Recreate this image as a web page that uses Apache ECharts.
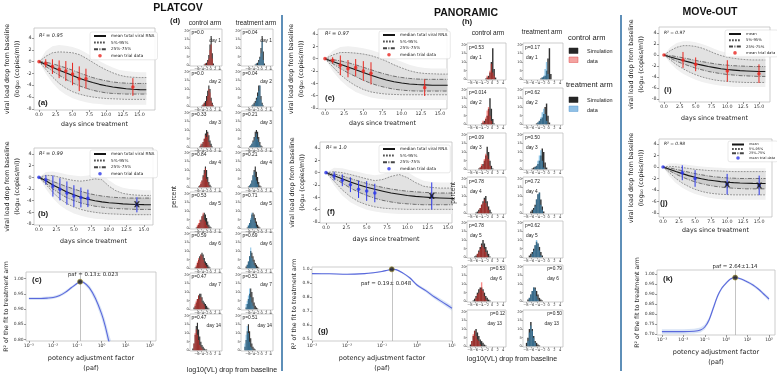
<!DOCTYPE html>
<html><head><meta charset="utf-8">
<script src="https://cdn.jsdelivr.net/npm/echarts@6/dist/echarts.min.js"></script>
<style>html,body{margin:0;padding:0;background:#fff}#c{width:777px;height:374px}</style>
</head><body><div id="c"></div><script>
// ---------------- DATA ----------------
const simDays = [0,1,2,3,4,5,6,7,8,9,10,11,12,13,14,15,16];
// PLATCOV control (a)
const aMean = [0,-0.45,-0.95,-1.45,-1.9,-2.35,-2.8,-3.2,-3.55,-3.85,-4.1,-4.3,-4.45,-4.6,-4.68,-4.74,-4.78];
const aP95  = [0,0.9,1.5,1.65,1.6,1.5,1.2,0.6,-0.1,-0.8,-1.4,-1.9,-2.3,-2.55,-2.65,-2.7,-2.7];
const aP75  = [0,-0.1,-0.35,-0.7,-1.05,-1.45,-1.9,-2.3,-2.7,-3.0,-3.25,-3.45,-3.58,-3.65,-3.7,-3.7,-3.7];
const aP25  = [0,-0.8,-1.6,-2.3,-3.0,-3.6,-4.1,-4.5,-4.85,-5.1,-5.3,-5.4,-5.45,-5.5,-5.5,-5.5,-5.5];
const aP5   = [0,-1.3,-2.6,-3.7,-4.5,-5.1,-5.5,-5.8,-6.0,-6.15,-6.25,-6.3,-6.35,-6.4,-6.4,-6.4,-6.4];
const aMax  = [0,1.8,2.6,2.8,2.7,2.5,2.1,1.5,0.8,0.1,-0.5,-1.0,-1.4,-1.6,-1.7,-1.8,-1.8];
const aMin  = [0,-2.0,-3.6,-4.8,-5.6,-6.2,-6.6,-6.9,-7.1,-7.2,-7.3,-7.3,-7.3,-7.3,-7.3,-7.3,-7.3];
const platDays = [0,1,2,3,4,5,6,7,14];
const aObs = [0,-0.3,-0.85,-1.3,-1.6,-2.1,-2.9,-2.9,-4.3];
const aErr = [0,0.7,1.25,1.5,1.7,1.9,2.1,1.7,1.5];
// PLATCOV treatment (b)
const bMean = [0,-0.6,-1.3,-1.9,-2.5,-3.0,-3.4,-3.75,-4.0,-4.2,-4.35,-4.45,-4.55,-4.6,-4.65,-4.68,-4.7];
const bP95  = [0,0.35,0.3,0.0,-0.3,-0.55,-0.65,-0.5,-0.25,-0.4,-1.5,-2.3,-2.75,-2.95,-3.05,-3.1,-3.1];
const bP75  = [0,-0.25,-0.7,-1.15,-1.6,-2.0,-2.4,-2.75,-3.0,-3.2,-3.35,-3.45,-3.5,-3.55,-3.55,-3.55,-3.55];
const bP25  = [0,-1.0,-2.0,-2.8,-3.5,-4.0,-4.4,-4.7,-4.95,-5.1,-5.25,-5.35,-5.4,-5.45,-5.5,-5.5,-5.5];
const bP5   = [0,-1.2,-2.6,-3.7,-4.5,-5.1,-5.5,-5.8,-6.0,-6.15,-6.25,-6.3,-6.35,-6.4,-6.4,-6.4,-6.4];
const bMax  = [0,0.9,1.0,0.8,0.5,0.3,0.2,0.3,0.6,0.5,-0.5,-1.3,-1.8,-2.0,-2.1,-2.2,-2.2];
const bMin  = [0,-2.0,-3.6,-4.8,-5.6,-6.2,-6.6,-6.9,-7.1,-7.2,-7.3,-7.3,-7.3,-7.3,-7.3,-7.3,-7.3];
const bObs = [0,-0.45,-1.5,-2.05,-2.7,-3.2,-3.45,-3.6,-4.7];
const bErr = [0,0.8,1.8,1.9,2.0,1.85,1.7,1.5,1.3];
const bSimDays = [14];
const bSim = [-4.6];
// PANORAMIC control (e)
const eMean = [0,-0.45,-0.9,-1.35,-1.8,-2.25,-2.7,-3.1,-3.45,-3.75,-3.95,-4.1,-4.2,-4.25,-4.3,-4.3,-4.3];
const eP95  = [0,0.6,1.0,1.0,0.9,0.75,0.5,0.1,-0.4,-1.0,-1.5,-1.95,-2.25,-2.4,-2.45,-2.5,-2.5];
const eP75  = [0,-0.15,-0.35,-0.65,-1.0,-1.4,-1.8,-2.2,-2.55,-2.85,-3.05,-3.2,-3.3,-3.35,-3.35,-3.35,-3.35];
const eP25  = [0,-0.8,-1.6,-2.3,-2.9,-3.5,-4.0,-4.4,-4.7,-4.95,-5.1,-5.2,-5.25,-5.25,-5.25,-5.25,-5.25];
const eP5   = [0,-1.3,-2.6,-3.6,-4.4,-5.0,-5.4,-5.6,-5.75,-5.8,-5.85,-5.85,-5.85,-5.85,-5.85,-5.85,-5.85];
const eMax  = [0,1.3,1.9,2.0,1.9,1.7,1.4,1.0,0.5,0.0,-0.5,-1.0,-1.3,-1.5,-1.6,-1.6,-1.6];
const eMin  = [0,-2.0,-3.5,-4.6,-5.4,-5.9,-6.3,-6.5,-6.6,-6.7,-6.7,-6.7,-6.7,-6.7,-6.7,-6.7,-6.7];
const panoDays = [0,1,2,3,4,5,6,13];
const eObs = [0,-0.27,-1.08,-1.62,-1.46,-2.0,-2.38,-4.7];
const eErr = [0,0.5,1.6,1.4,1.4,1.6,1.8,1.35];
// PANORAMIC treatment (f)
const fMean = [0,-0.5,-1.0,-1.5,-1.95,-2.35,-2.7,-3.0,-3.3,-3.5,-3.7,-3.85,-3.95,-4.05,-4.1,-4.15,-4.2];
const fP95  = [0,0.15,0.0,-0.3,-0.65,-1.0,-1.3,-1.1,-0.6,-0.3,-0.8,-1.6,-2.2,-2.4,-2.5,-2.5,-2.5];
const fP75  = [0,-0.2,-0.55,-0.95,-1.35,-1.75,-2.1,-2.4,-2.65,-2.85,-3.0,-3.1,-3.2,-3.25,-3.3,-3.3,-3.3];
const fP25  = [0,-0.9,-1.7,-2.5,-3.15,-3.7,-4.15,-4.5,-4.75,-4.95,-5.05,-5.15,-5.2,-5.2,-5.2,-5.2,-5.2];
const fP5   = [0,-1.4,-2.8,-3.9,-4.7,-5.2,-5.55,-5.75,-5.85,-5.9,-5.95,-5.95,-5.95,-5.95,-5.95,-5.95,-5.95];
const fMax  = [0,0.8,0.7,0.4,0.1,-0.2,-0.4,-0.2,0.3,0.6,0.1,-0.7,-1.3,-1.5,-1.6,-1.6,-1.6];
const fMin  = [0,-2.1,-3.7,-4.8,-5.5,-6.0,-6.3,-6.5,-6.6,-6.7,-6.7,-6.7,-6.7,-6.7,-6.7,-6.7,-6.7];
const fObs = [0,-0.54,-1.24,-1.95,-2.7,-2.97,-3.3,-3.78];
const fErr = [0,0.7,0.95,1.2,1.4,1.6,1.5,2.2];
const fSimDays = [13];
const fSim = [-3.78];
// MOVe-OUT control (i)
const iMean = [0,-0.35,-0.7,-1.0,-1.3,-1.6,-1.85,-2.1,-2.3,-2.5,-2.65,-2.75,-2.85,-2.9,-2.95,-3.0,-3.0];
const iP95  = [0,0.8,1.4,1.7,1.7,1.55,1.25,0.8,0.3,-0.1,-0.4,-0.6,-0.75,-0.85,-0.9,-0.9,-0.9];
const iP75  = [0,-0.1,-0.3,-0.5,-0.75,-1.0,-1.2,-1.4,-1.6,-1.75,-1.85,-1.95,-2.0,-2.05,-2.1,-2.1,-2.1];
const iP25  = [0,-0.6,-1.15,-1.6,-2.0,-2.4,-2.7,-3.0,-3.2,-3.4,-3.55,-3.65,-3.75,-3.8,-3.85,-3.9,-3.9];
const iP5   = [0,-0.9,-1.8,-2.5,-3.1,-3.6,-4.0,-4.3,-4.55,-4.7,-4.8,-4.9,-4.95,-5.0,-5.0,-5.0,-5.0];
const iMax  = [0,1.4,2.2,2.5,2.5,2.3,2.0,1.6,1.1,0.7,0.4,0.2,0.1,0.0,0.0,0.0,0.0];
const iMin  = [0,-1.5,-2.6,-3.4,-4.0,-4.5,-4.9,-5.2,-5.4,-5.6,-5.7,-5.8,-5.8,-5.8,-5.8,-5.8,-5.8];
const moveDays = [0,3,5,10,15];
const iObs = [0,-0.9,-1.7,-2.9,-3.4];
const iErr = [0,1.45,1.25,1.95,1.7];
// MOVe-OUT treatment (j)
const jMean = [0,-0.4,-0.8,-1.15,-1.5,-1.8,-2.05,-2.25,-2.4,-2.55,-2.65,-2.72,-2.78,-2.82,-2.85,-2.87,-2.88];
const jP95  = [0,0.1,0.05,-0.1,-0.25,-0.4,-0.5,-0.6,-0.65,-0.7,-0.75,-0.8,-0.8,-0.8,-0.8,-0.8,-0.8];
const jP75  = [0,-0.15,-0.4,-0.65,-0.9,-1.15,-1.35,-1.55,-1.7,-1.8,-1.9,-1.95,-2.0,-2.0,-2.0,-2.0,-2.0];
const jP25  = [0,-0.65,-1.25,-1.75,-2.2,-2.6,-2.9,-3.15,-3.35,-3.5,-3.6,-3.7,-3.75,-3.8,-3.8,-3.8,-3.8];
const jP5   = [0,-1.0,-2.0,-2.8,-3.4,-3.9,-4.25,-4.5,-4.65,-4.75,-4.8,-4.85,-4.85,-4.85,-4.85,-4.85,-4.85];
const jMax  = [0,0.6,0.6,0.5,0.35,0.2,0.1,0.0,-0.1,-0.15,-0.2,-0.2,-0.2,-0.2,-0.2,-0.2,-0.2];
const jMin  = [0,-1.6,-2.8,-3.6,-4.2,-4.7,-5.0,-5.3,-5.5,-5.6,-5.7,-5.7,-5.7,-5.7,-5.7,-5.7,-5.7];
const jObs = [0,-1.0,-2.0,-3.0,-3.2];
const jErr = [0,1.3,1.45,1.8,1.7];
const jSimDays = [10,15];
const jSim = [-3.0,-3.2];
// potency adjustment factor fits (x = log10 paf)
const cLogPaf = [-3,-2.5,-2.25,-2,-1.75,-1.5,-1.25,-1,-0.886,-0.75,-0.5,-0.25,0,0.15,0.3,0.5];
const cR2     = [0.935,0.935,0.936,0.938,0.944,0.955,0.97,0.985,0.99,0.988,0.97,0.935,0.885,0.845,0.795,0.74];
const cPaf = 0.13, cPafR2 = 0.99;
const gLogPaf = [-3,-2.5,-2,-1.5,-1.25,-1,-0.85,-0.72,-0.6,-0.4,-0.2,0,0.25,0.5,0.75,1];
const gR2     = [0.966,0.965,0.962,0.966,0.972,0.982,0.99,0.997,0.995,0.97,0.935,0.885,0.845,0.8,0.76,0.72];
const gPaf = 0.19, gPafR2 = 0.997;
const kLogPaf = [-3,-2,-1.5,-1.2,-1,-0.8,-0.6,-0.4,-0.2,0,0.2,0.42,0.7,1,1.25,1.5,1.75,2];
const kR2     = [0.712,0.712,0.714,0.72,0.735,0.77,0.83,0.89,0.93,0.955,0.975,0.982,0.975,0.96,0.945,0.925,0.9,0.875];
const kPaf = 2.64, kPafR2 = 0.982;
// histograms: [first bin start, percent per 0.5-wide bin ...]
const platHistDays = [1,2,3,4,5,6,7,14];
const platCtrlP = ['0.0','0.0','0.33','0.84','0.53','0.59','0.47','0.47'];
const platTrtP  = ['0.04','0.04','0.21','0.21','0.71','0.69','0.51','0.51'];
const ptCS = [
 [-3,0.5,1,1.5,3,6,12,17,7,1],
 [-4,0.5,1,2,3,6,9,12,10,5,2,0.5],
 [-5,0.5,1,2,3,5,8,10,9,7,4,2,0.5],
 [-5.5,0.5,1,2,4,7,10,12,10,6,3,1.5,0.5],
 [-6.5,0.5,1,2,3,5,7,8,9,8,6,4,2,1,0.5],
 [-7,0.5,1,3,5,7,8,9,8,6,4,3,2,1,0.5],
 [-7.5,1,2,4,6,8,9,9,7,5,4,3,2,1,0.5],
 [-8,1,4,9,14,16,12,8,5,3,2,1,0.5,0.5]];
const ptCD = [
 [-2.5,1,0,2,4,9,12,4],
 [-3.5,1,2,0,3,6,10,8,3,1],
 [-4.5,2,0,3,5,7,6,8,3,1],
 [-5,1,3,4,6,8,11,5,3,1],
 [-6,2,3,5,4,7,9,5,4,2,1],
 [-6.5,2,4,6,5,8,7,5,3,2,1],
 [-7,3,5,6,8,6,7,4,3,2],
 [-7.5,4,10,12,9,6,3,2,1]];
const ptTS = [
 [-3,0.5,1,1.5,3,5,10,17,8,1],
 [-4.5,0.5,1,2,3,5,8,12,12,6,2,0.5],
 [-5.5,0.5,1,2,4,6,9,10,9,6,3,1,0.5],
 [-6,0.5,1,2,4,7,10,12,9,6,3,1,0.5],
 [-6.5,0.5,1.5,3,5,8,9,8,6,4,2,1,0.5],
 [-7,1,2,4,7,10,9,7,5,3,2,1,0.5],
 [-7,1,3,6,9,12,10,7,4,2,1,0.5],
 [-7.5,2,6,11,15,11,7,4,2,1,0.5]];
const ptTD = [
 [-2.5,1,0,2,4,7,14,3],
 [-4,1,0,2,4,6,9,12,4,1],
 [-5,1,2,3,4,6,8,5,3,1],
 [-5.5,1,2,4,7,9,6,4,2],
 [-6,2,3,6,9,7,5,3,1],
 [-6.5,2,4,7,12,6,4,2,1],
 [-7,3,5,8,12,7,4,2],
 [-7.5,4,9,14,10,5,2,1]];
const panoHistDays = [1,2,3,4,5,6,13];
const panoCtrlP = ['0.53','0.014','0.09','0.78','0.78','0.53','0.12'];
const panoTrtP  = ['0.17','0.62','0.50','0.72','0.62','0.79','0.50'];
const pnCS = [
 [-2.5,0.5,1,2,4,10,18,6,1],
 [-4,0.5,1,2,3,5,9,15,9,3,0.5],
 [-5,0.5,1,2,3,5,8,13,10,5,2,0.5],
 [-6,0.5,1,2,3,5,7,9,10,7,4,2,0.5],
 [-6.5,0.5,1,2,4,6,8,10,8,6,4,2,0.5],
 [-7,0.5,1.5,3,5,7,8,8,7,5,3,2,1,0.5],
 [-8,1,3,6,9,10,8,6,4,3,2,1,0.5]];
const pnCD = [
 [-2,2,1,5,9,4,2],
 [-3.5,2,1,4,8,10,5,2],
 [-4.5,1,3,2,6,9,8,6,2],
 [-5,1,3,5,6,8,6,4,2],
 [-5.5,2,3,5,7,6,5,3,1],
 [-6,2,4,5,7,11,6,3,1],
 [-7.5,3,7,9,6,4,3,1]];
const pnTS = [
 [-3,0.5,1,1.5,2,5,12,18,3],
 [-4.5,0.5,1,2,3,4,6,10,12,5,1],
 [-6,0.5,1,1.5,2,3,5,8,12,10,4,1],
 [-6.5,1,2,3,5,8,11,12,8,4,1],
 [-7,1,2,3,5,7,9,8,6,3,1],
 [-7.5,1,2,4,6,8,8,6,4,2,1,0.5],
 [-8,2,5,10,14,10,6,3,2,1,0.5]];
const pnTD = [
 [-2.5,1,2,6,10,3],
 [-4,1,2,4,7,9,6,2],
 [-5,1,2,5,8,11,5,1],
 [-5.5,2,4,8,11,12,5,2],
 [-6,2,4,7,10,8,4,1],
 [-7,2,4,6,8,7,3,1],
 [-7.5,3,8,12,9,5,2]];
const fanXTicks = [0,2.5,5,7.5,10,12.5,15];
const fanYTicks = [-8,-6,-4,-2,0,2,4];
const histXTicks = [-8,-6,-4,-2,0,2,4];
const histYTicks = [0,5,10,15,20];

// ---------------- BUILD ----------------
const F = 'DejaVu Sans', A = 'Liberation Sans';
const RED = '#e8261f', BLUE = '#2a36e8', CURVE = '#5a68dc';
const grids = [], xAxes = [], yAxes = [], series = [], legends = [], graphics = [];
const minus = v => (v < 0 ? '\u2212' + (-v) : '' + v);
const noLine = {show: false, onZero: false};

function addGrid(r, xa, ya) {
  const i = grids.length;
  grids.push({left: r[0], top: r[1], width: r[2], height: r[3], show: true,
    borderColor: '#b8b8b8', borderWidth: 0.7, backgroundColor: '#fff', containLabel: false});
  xa.gridIndex = i; ya.gridIndex = i; xa.position = 'bottom'; ya.position = 'left';
  xAxes.push(xa); yAxes.push(ya);
  return i;
}
function txt(x, y, t, o) {
  o = o || {};
  graphics.push({type: 'text', x, y, rotation: o.rot || 0, z: 50, silent: true,
    style: {text: t, fontSize: o.fs || 6, fontFamily: o.ff || F, fontWeight: o.fw || 'normal',
      fontStyle: o.fst || 'normal', fill: o.c || '#222', align: o.al || 'left', verticalAlign: 'middle'}});
}
function band(g, xs, lo, hi, color) {
  return {type: 'custom', xAxisIndex: g, yAxisIndex: g, silent: true, z: 1, clip: true,
    data: [[xs[0], lo[0]]],
    renderItem: (params, api) => {
      const pts = [];
      for (let i = 0; i < xs.length; i++) pts.push(api.coord([xs[i], hi[i]]));
      for (let i = xs.length - 1; i >= 0; i--) pts.push(api.coord([xs[i], lo[i]]));
      return {type: 'polygon', shape: {points: pts}, style: {fill: color}};
    }};
}
const XSYM = 'path://M0,0L3,0L5,3.2L7,0L10,0L6.6,5L10,10L7,10L5,6.8L3,10L0,10L3.4,5Z';
function P2(xs, ys) { return xs.map((x, i) => [x, ys[i]]); }

function fanPanel(p, d) {
  const axName = {fontSize: 6.3, color: '#222', fontFamily: F, lineHeight: 10};
  const g = addGrid(p.rect, {
    type: 'value', min: p.xr[0], max: p.xr[1], axisLine: noLine, splitLine: {show: false},
    axisTick: {show: true, length: 2, lineStyle: {color: '#555', width: 0.6}, customValues: fanXTicks},
    axisLabel: {customValues: fanXTicks, formatter: v => v.toFixed(1), fontSize: 4.8, color: '#333', margin: 2.5, fontFamily: F},
    name: 'days since treatment', nameLocation: 'middle', nameGap: p.xGap, nameTextStyle: axName
  }, {
    type: 'value', min: p.yr[0], max: p.yr[1], axisLine: noLine, splitLine: {show: false},
    axisTick: {show: true, length: 2, lineStyle: {color: '#555', width: 0.6}, customValues: fanYTicks},
    axisLabel: {customValues: fanYTicks, fontSize: 4.8, color: '#333', margin: 2.5, fontFamily: F},
    name: 'viral load drop from baseline\n(log\u2081\u2080 (copies/ml))', nameLocation: 'middle', nameGap: p.yGap,
    nameTextStyle: axName
  });
  const pre = p.id + ':';
  const P = ys => P2(d.t, ys);
  series.push(band(g, d.t, d.lo, d.hi, '#f0f0f0'));
  series.push(band(g, d.t, d.p5, d.p95, '#e2e2e2'));
  series.push(band(g, d.t, d.p25, d.p75, '#cdcdcd'));
  const dash = {color: '#555', width: 0.6, type: [1.8, 1.2]};
  const dd = {color: '#444', width: 0.7, type: [4, 1.4, 1, 1.4]};
  const L = (name, ys, ls) => ({type: 'line', name, xAxisIndex: g, yAxisIndex: g, data: P(ys),
    symbol: 'none', lineStyle: ls, z: 3, silent: true});
  series.push(L(pre + p.meanLabel, d.mean, {color: '#151515', width: 1.1}));
  series.push(L(pre + '5%-95%', d.p5, dash), L(pre + '5%-95%', d.p95, dash));
  series.push(L(pre + '25%-75%', d.p25, dd), L(pre + '25%-75%', d.p75, dd));
  series.push({type: 'custom', xAxisIndex: g, yAxisIndex: g, silent: true, z: 4,
    data: d.od.map((x, i) => [x, d.obs[i], d.err[i]]),
    renderItem: (params, api) => {
      const x = api.value(0), y = api.value(1), e = api.value(2);
      const a = api.coord([x, y - e]), b = api.coord([x, y + e]);
      return {type: 'line', shape: {x1: a[0], y1: a[1], x2: b[0], y2: b[1]}, style: {stroke: p.col, lineWidth: 1}};
    }});
  series.push({type: 'scatter', name: pre + p.obsLabel, xAxisIndex: g, yAxisIndex: g, silent: true, z: 5,
    data: P2(d.od, d.obs), symbolSize: 3.6, itemStyle: {color: p.col}});
  if (d.sd) series.push({type: 'scatter', xAxisIndex: g, yAxisIndex: g, silent: true, z: 6,
    data: P2(d.sd, d.sv), symbol: XSYM, symbolSize: 6, itemStyle: {color: '#151515'}});
  const hideSym = {opacity: 0};
  legends.push({left: p.lg[0], top: p.lg[1], orient: 'vertical', itemWidth: 12, itemHeight: 3.6,
    itemGap: p.lgGap, padding: [2, 3, 2, 3], borderColor: '#d0d0d0', borderWidth: 0.5, borderRadius: 2,
    backgroundColor: 'rgba(255,255,255,0.85)', selectedMode: false,
    textStyle: {fontSize: p.lgFs, color: '#222', fontFamily: F},
    formatter: n => n.slice(2),
    data: [{name: pre + p.meanLabel, itemStyle: hideSym}, {name: pre + '5%-95%', itemStyle: hideSym},
      {name: pre + '25%-75%', itemStyle: hideSym}, {name: pre + p.obsLabel}]});
  txt(p.r2Pos[0], p.r2Pos[1], 'R\u00b2 = ' + p.r2, {fs: p.r2Fs || 5, fst: 'italic'});
  txt(p.tagPos[0], p.tagPos[1], p.tag, {fs: 8, fw: 'bold', ff: A});
}

const SUP = {'-3': '10\u207b\u00b3', '-2': '10\u207b\u00b2', '-1': '10\u207b\u00b9', '0': '10\u2070', '1': '10\u00b9', '2': '10\u00b2'};
function pafPanel(p) {
  const g = addGrid(p.rect, {
    type: 'value', min: p.xr[0], max: p.xr[1], axisLine: noLine, splitLine: {show: false},
    axisTick: {show: true, length: 2, lineStyle: {color: '#555', width: 0.6}, customValues: p.xt},
    axisLabel: {customValues: p.xt, formatter: v => SUP[String(Math.round(v))], fontSize: 4.6, color: '#333', margin: 2.5, fontFamily: F},
    name: 'potency adjustment factor\n(paf)', nameLocation: 'middle', nameGap: p.xGap,
    nameTextStyle: {fontSize: 6.5, color: '#222', fontFamily: F, lineHeight: 10}
  }, {
    type: 'value', min: p.yr[0], max: p.yr[1], axisLine: noLine, splitLine: {show: false},
    axisTick: {show: true, length: 2, lineStyle: {color: '#555', width: 0.6}, customValues: p.yt},
    axisLabel: {customValues: p.yt, formatter: v => v.toFixed(p.dec), fontSize: 4.4, color: '#333', margin: 2.5, fontFamily: F},
    name: 'R\u00b2 of the fit to treatment arm', nameLocation: 'middle', nameGap: p.yGap,
    nameTextStyle: {fontSize: 6.2, color: '#222', fontFamily: F}
  });
  const lo = p.r2.map((v, i) => v - p.bw[i]), hi = p.r2.map((v, i) => v + p.bw[i]);
  series.push(band(g, p.lx, lo, hi, 'rgba(170,195,235,0.45)'));
  const px = Math.log10(p.paf);
  series.push({type: 'line', xAxisIndex: g, yAxisIndex: g, data: P2(p.lx, p.r2), symbol: 'none', smooth: 0.3,
    lineStyle: {color: CURVE, width: 1.1}, z: 3, silent: true,
    markLine: {silent: true, symbol: 'none', label: {show: false}, animation: false,
      lineStyle: {color: '#aaa', width: 0.7, type: 'solid'}, data: [{xAxis: px}]}});
  series.push({type: 'scatter', xAxisIndex: g, yAxisIndex: g, data: [[px, p.peak]], symbolSize: 5, z: 5, silent: true,
    itemStyle: {color: '#1a1a1a', borderColor: '#9c8a2c', borderWidth: 0.8}});
  txt(p.tPos[0], p.tPos[1], p.label, {fs: 5.4, al: 'center'});
  txt(p.tagPos[0], p.tagPos[1], p.tag, {fs: 8, fw: 'bold', ff: A});
}

function histPanel(r, sim, dat, dcol, pTxt, dTxt, mode) {
  const g = addGrid(r, {
    type: 'value', min: -9, max: 5, axisLine: noLine, splitLine: {show: false},
    axisTick: {show: true, length: 1.4, lineStyle: {color: '#666', width: 0.5}, customValues: histXTicks},
    axisLabel: {customValues: histXTicks, formatter: minus, fontSize: 3.6, color: '#333', margin: 1.2, fontFamily: F}
  }, {
    type: 'value', min: -0.4, max: 21, axisLine: noLine, splitLine: {show: false},
    axisTick: {show: true, length: 1.4, lineStyle: {color: '#666', width: 0.5}, customValues: histYTicks},
    axisLabel: {customValues: histYTicks, fontSize: 3.6, color: '#333', margin: 1.2, fontFamily: F}
  });
  const hs = (arr, col, op, z) => ({type: 'custom', xAxisIndex: g, yAxisIndex: g, silent: true, z,
    data: arr.slice(1).map((v, i) => [arr[0] + i * 0.5, v]),
    renderItem: (params, api) => {
      const x = api.value(0), h = api.value(1);
      const a = api.coord([x, 0]), b = api.coord([x + 0.5, h]);
      return {type: 'rect', shape: {x: a[0], y: b[1], width: b[0] - a[0], height: a[1] - b[1]},
        style: {fill: col, opacity: op}};
    }});
  series.push(hs(sim, '#161616', 0.88, 2));
  series.push(hs(dat, dcol, 0.55, 3));
  const x0 = r[0], y0 = r[1], w = r[2];
  if (mode === 'd') {
    txt(x0 + 1.5, y0 + 4, 'p=' + pTxt, {fs: 4.8, ff: A});
    txt(x0 + w - 1, y0 + 11.5, 'day ' + dTxt, {fs: 4.8, ff: A, al: 'right'});
  } else if (mode === 'hl') {
    txt(x0 + 2, y0 + 5, 'p=' + pTxt, {fs: 4.8, ff: A});
    txt(x0 + 3, y0 + 15, 'day ' + dTxt, {fs: 4.8, ff: A});
  } else {
    txt(x0 + w - 1, y0 + 4, 'p=' + pTxt, {fs: 4.8, ff: A, al: 'right'});
    txt(x0 + w - 4, y0 + 14, 'day ' + dTxt, {fs: 4.8, ff: A, al: 'right'});
  }
}

// ---- fan panels ----
const mk = (mean, p5, p25, p75, p95, lo, hi, od, obs, err, sd, sv) => ({t: simDays, mean, p5, p25, p75, p95, lo, hi, od, obs, err, sd, sv});
fanPanel({id: 'a', rect: [34, 28, 121, 82], xr: [-0.75, 17.3], yr: [-8.2, 5.7], col: RED, xGap: 9, yGap: 9,
  meanLabel: 'mean total viral RNA', obsLabel: 'mean trial data', lg: [90, 32], lgGap: 2.6, lgFs: 4.2,
  r2: '0.95', r2Pos: [39, 36], tag: '(a)', tagPos: [38, 103]},
  mk(aMean, aP5, aP25, aP75, aP95, aMin, aMax, platDays, aObs, aErr));
fanPanel({id: 'b', rect: [34, 148, 119, 77], xr: [-0.7, 16.3], yr: [-8.17, 5.03], col: BLUE, xGap: 11, yGap: 9,
  meanLabel: 'mean total viral RNA', obsLabel: 'mean trial data', lg: [90, 150], lgGap: 2.6, lgFs: 4.2,
  r2: '0.99', r2Pos: [39, 154], tag: '(b)', tagPos: [38, 214]},
  mk(bMean, bP5, bP25, bP75, bP95, bMin, bMax, platDays, bObs, bErr, bSimDays, bSim));
fanPanel({id: 'e', rect: [318, 29, 129, 80], xr: [-0.91, 15.91], yr: [-8.16, 4.81], col: RED, xGap: 9, yGap: 12,
  meanLabel: 'median total viral RNA', obsLabel: 'median trial data', lg: [379, 31], lgGap: 2.6, lgFs: 4.2,
  r2: '0.97', r2Pos: [325, 34], tag: '(e)', tagPos: [325, 98]},
  mk(eMean, eP5, eP25, eP75, eP95, eMin, eMax, panoDays, eObs, eErr));
fanPanel({id: 'f', rect: [320, 142, 132, 81], xr: [-0.74, 15.49], yr: [-8.16, 4.97], col: BLUE, xGap: 11, yGap: 13,
  meanLabel: 'median total viral RNA', obsLabel: 'median trial data', lg: [379, 145], lgGap: 2.6, lgFs: 4.2,
  r2: '1.0', r2Pos: [326, 148], tag: '(f)', tagPos: [327, 212]},
  mk(fMean, fP5, fP25, fP75, fP95, fMin, fMax, panoDays, fObs, fErr, fSimDays, fSim));
fanPanel({id: 'i', rect: [659, 27, 111, 75], xr: [-0.79, 16.74], yr: [-8.55, 5.09], col: RED, xGap: 11, yGap: 13,
  meanLabel: 'mean', obsLabel: 'mean trial data', lg: [725, 30], lgGap: 2.3, lgFs: 3.8,
  r2: '0.97', r2Pos: [664, 33], r2Fs: 4.4, tag: '(i)', tagPos: [664, 90]},
  mk(iMean, iP5, iP25, iP75, iP95, iMin, iMax, moveDays, iObs, iErr));
fanPanel({id: 'j', rect: [659, 139, 113, 78], xr: [-0.63, 17.0], yr: [-8.7, 4.87], col: BLUE, xGap: 8, yGap: 13,
  meanLabel: 'mean', obsLabel: 'mean trial data', lg: [728, 141], lgGap: 1.4, lgFs: 3.4,
  r2: '0.98', r2Pos: [664, 144], r2Fs: 4.4, tag: '(j)', tagPos: [660, 203]},
  mk(jMean, jP5, jP25, jP75, jP95, jMin, jMax, moveDays, jObs, jErr, jSimDays, jSim));

// ---- paf panels ----
pafPanel({rect: [26, 272, 130, 73], xr: [-3.12, 2.25], yr: [0.795, 1.022], xt: [-3, -2, -1, 0, 1, 2],
  yt: [0.80, 0.85, 0.90, 0.95, 1.00], dec: 2, xGap: 12, yGap: 15, lx: cLogPaf, r2: cR2,
  bw: [0.005,0.005,0.005,0.005,0.005,0.005,0.005,0.004,0.004,0.005,0.008,0.012,0.016,0.02,0.024,0.03],
  paf: cPaf, peak: cPafR2, label: 'paf = 0.13\u00b1 0.023', tPos: [93, 275], tag: '(c)', tagPos: [32, 280]});
pafPanel({rect: [312, 267, 140, 78], xr: [-3, 1], yr: [0.4865, 1.0135], xt: [-3, -2, -1, 0, 1],
  yt: [0.5, 0.6, 0.7, 0.8, 0.9, 1.0], dec: 1, xGap: 12, yGap: 15, lx: gLogPaf, r2: gR2,
  bw: [0.004,0.004,0.004,0.004,0.004,0.004,0.004,0.003,0.004,0.006,0.008,0.01,0.012,0.014,0.016,0.018],
  paf: gPaf, peak: gPafR2, label: 'paf = 0.19\u00b1 0.048', tPos: [386, 284], tag: '(g)', tagPos: [318, 331]});
pafPanel({rect: [657, 270, 118, 65], xr: [-3.23, 2.28], yr: [0.695, 1.02], xt: [-3, -2, -1, 0, 1, 2],
  yt: [0.70, 0.75, 0.80, 0.85, 0.90, 0.95, 1.00], dec: 2, xGap: 12, yGap: 14, lx: kLogPaf, r2: kR2,
  bw: [0.012,0.012,0.012,0.012,0.012,0.012,0.012,0.01,0.008,0.006,0.005,0.004,0.005,0.006,0.007,0.008,0.009,0.01],
  paf: kPaf, peak: kPafR2, label: 'paf = 2.64\u00b11.14', tPos: [735, 267], tag: '(k)', tagPos: [663, 279]});

// ---- histograms ----
const dTops = [29, 70, 111, 151, 192, 232, 273, 314];
for (let i = 0; i < platHistDays.length; i++) {
  histPanel([190, dTops[i], 32, 37], ptCS[i], ptCD[i], '#f0302a', platCtrlP[i], platHistDays[i], 'd');
  histPanel([241, dTops[i], 32, 37], ptTS[i], ptTD[i], '#3d9ad6', platTrtP[i], platHistDays[i], 'd');
}
const hTops = [43, 88, 133, 177, 221, 265, 310];
for (let i = 0; i < panoHistDays.length; i++) {
  const m = i < 5 ? 'hl' : 'hr';
  histPanel([467, hTops[i], 39, 37], pnCS[i], pnCD[i], '#f0302a', panoCtrlP[i], panoHistDays[i], m);
  histPanel([523, hTops[i], 40, 37], pnTS[i], pnTD[i], '#3d9ad6', panoTrtP[i], panoHistDays[i], m);
}

// ---- texts & decorations ----
txt(178, 8, 'PLATCOV', {fs: 10.5, fw: 'bold', ff: A, al: 'center', c: '#111'});
txt(466, 13, 'PANORAMIC', {fs: 10.5, fw: 'bold', ff: A, al: 'center', c: '#111'});
txt(710, 12, 'MOVe-OUT', {fs: 10.5, fw: 'bold', ff: A, al: 'center', c: '#111'});
txt(170, 21, '(d)', {fs: 8, fw: 'bold', ff: A});
txt(205, 23, 'control arm', {fs: 6.5, ff: A, al: 'center'});
txt(256, 23, 'treatment arm', {fs: 6.5, ff: A, al: 'center'});
txt(462, 22, '(h)', {fs: 8, fw: 'bold', ff: A});
txt(488, 33, 'control arm', {fs: 6.5, ff: A, al: 'center'});
txt(542, 32, 'treatment arm', {fs: 6.5, ff: A, al: 'center'});
txt(174, 197, 'percent', {fs: 6.5, ff: A, al: 'center', rot: Math.PI / 2});
txt(453, 193, 'percent', {fs: 6.5, ff: A, al: 'center', rot: Math.PI / 2});
txt(232, 370, 'log10(VL) drop from baseline', {fs: 7, ff: A, al: 'center'});
txt(512, 359, 'log10(VL) drop from baseline', {fs: 7, ff: A, al: 'center'});
// histogram legend
txt(568, 38, 'control arm', {fs: 7.5, ff: A});
txt(566, 85, 'treatment arm', {fs: 7.5, ff: A});
const legRect = (y, fill, stroke) => graphics.push({type: 'rect', shape: {x: 569, y, width: 9, height: 5.5},
  style: {fill, stroke, lineWidth: 0.5}, silent: true});
legRect(48, '#262626', '#262626'); legRect(57, '#f4a3a0', '#e05050');
legRect(97, '#262626', '#262626'); legRect(106, '#8fc0e6', '#5a9ad0');
txt(587, 51, 'Simulation', {fs: 5.5, ff: A}); txt(587, 61, 'data', {fs: 5.5, ff: A});
txt(587, 100, 'Simulation', {fs: 5.5, ff: A}); txt(587, 110, 'data', {fs: 5.5, ff: A});
// separators
[282, 621].forEach(x => graphics.push({type: 'line', shape: {x1: x, y1: 15, x2: x, y2: 371},
  style: {stroke: '#5e8fb8', lineWidth: 2}, silent: true}));

const chart = echarts.init(document.getElementById('c'), null, {renderer: 'canvas'});
chart.setOption({animation: false, backgroundColor: '#fff', grid: grids, xAxis: xAxes, yAxis: yAxes,
  series, legend: legends, graphic: graphics, tooltip: {show: false}});
</script></body></html>
